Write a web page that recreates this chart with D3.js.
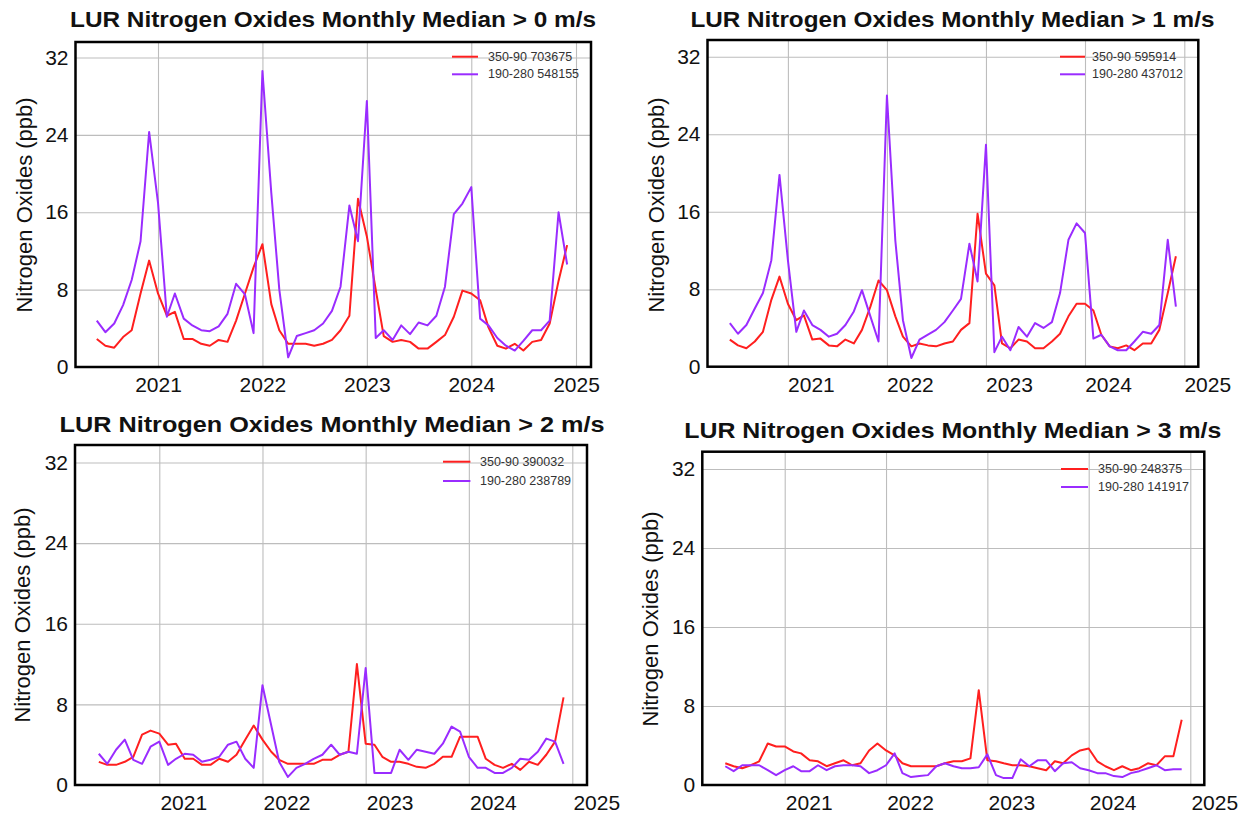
<!DOCTYPE html>
<html>
<head>
<meta charset="utf-8">
<script src="https://cdn.jsdelivr.net/npm/d3@7/dist/d3.min.js"></script>
<style>
  html, body { margin: 0; padding: 0; background: #ffffff; }
  svg { display: block; font-family: "Liberation Sans", Arial, Helvetica, sans-serif; }
</style>
</head>
<body>
<svg id="chart" width="1249" height="820"></svg>
<script>
// ---------------- DATA ----------------
const titles = [
  "LUR Nitrogen Oxides Monthly Median > 0 m/s",
  "LUR Nitrogen Oxides Monthly Median > 1 m/s",
  "LUR Nitrogen Oxides Monthly Median > 2 m/s",
  "LUR Nitrogen Oxides Monthly Median > 3 m/s"
];
const yLabel = "Nitrogen Oxides (ppb)";
const yTicks = [0, 8, 16, 24, 32];
const xTickYears = [2021, 2022, 2023, 2024, 2025];
const firstMonth = "2020-06-01";   // monthly medians, Jun 2020 .. Dec 2024
const lastMonth = "2024-12-01";
const seriesNames = ["350-90", "190-280"];
const seriesColors = ["#ff1f1f", "#9a2cff"];
const countsRed = ["703675", "595914", "390032", "248375"];
const countsPurple = ["548155", "437012", "238789", "141917"];

// > 0 m/s
const red0 = [2.9,2.2,2.0,3.1,3.8,7.6,11.0,7.6,5.3,5.7,2.9,2.9,2.4,2.2,2.8,2.6,4.8,7.6,10.3,12.7,6.5,3.8,2.4,2.4,2.4,2.2,2.4,2.8,3.8,5.3,17.4,13.5,8.0,3.2,2.6,2.8,2.6,1.9,1.9,2.6,3.3,5.2,7.9,7.6,6.9,4.1,2.2,1.9,2.4,1.7,2.6,2.8,4.5,8.9,12.6];
const purple0 = [4.8,3.6,4.5,6.4,9.0,13.0,24.3,17.0,5.2,7.6,5.0,4.3,3.8,3.7,4.2,5.5,8.6,7.5,3.5,30.6,18.0,8.0,1.0,3.2,3.5,3.8,4.5,5.8,8.3,16.7,13.0,27.5,3.0,3.8,2.8,4.3,3.4,4.6,4.3,5.3,8.3,15.8,16.9,18.6,5.0,4.3,3.0,2.2,1.7,2.7,3.8,3.8,4.8,16.0,10.6];
// > 1 m/s
const red1 = [2.8,2.2,1.9,2.6,3.6,6.9,9.3,6.5,4.8,5.3,2.8,2.9,2.2,2.1,2.8,2.4,3.8,6.2,8.9,7.9,5.2,3.1,2.1,2.4,2.2,2.1,2.4,2.6,3.8,4.5,15.8,9.6,8.4,2.4,1.9,2.8,2.6,1.9,1.9,2.6,3.4,5.2,6.5,6.5,5.8,3.3,2.1,1.9,2.2,1.7,2.4,2.4,3.8,7.6,11.4];
const purple1 = [4.5,3.4,4.3,6.0,7.6,11.0,19.8,11.0,3.6,5.8,4.3,3.8,3.1,3.4,4.3,5.7,7.9,5.2,2.6,28.0,13.0,4.8,0.9,2.8,3.3,3.8,4.6,5.8,7.0,12.7,8.8,22.9,1.5,3.1,1.7,4.1,3.1,4.5,4.0,4.6,7.6,13.1,14.8,13.8,2.9,3.3,2.1,1.7,1.7,2.6,3.6,3.4,4.3,13.1,6.2];
// > 2 m/s
const red2 = [2.3,2.0,2.0,2.3,2.8,5.0,5.4,5.1,4.0,4.1,2.6,2.6,2.0,2.0,2.6,2.3,3.0,4.5,5.9,4.5,3.3,2.5,2.1,2.1,2.1,2.1,2.5,2.5,3.0,3.3,12.0,4.1,4.0,2.8,2.3,2.3,2.1,1.8,1.7,2.1,2.8,2.8,4.8,4.8,4.8,2.6,2.0,1.7,2.1,1.5,2.3,2.0,3.0,4.3,8.7];
const purple2 = [3.1,2.1,3.5,4.5,2.5,2.1,3.8,4.3,2.0,2.6,3.1,3.0,2.3,2.5,2.8,4.0,4.3,2.6,1.7,9.9,5.9,2.3,0.8,1.7,2.1,2.6,3.0,4.0,3.0,3.3,3.1,11.6,1.2,1.2,1.2,3.5,2.5,3.5,3.3,3.1,4.1,5.8,5.3,2.8,1.7,1.7,1.2,1.2,1.7,2.6,2.5,3.3,4.6,4.3,2.1];
// > 3 m/s
const red3 = [2.2,1.9,1.7,2.0,2.4,4.2,3.9,3.9,3.4,3.2,2.5,2.4,1.9,2.2,2.5,2.0,2.2,3.5,4.2,3.5,3.0,2.2,1.9,1.9,1.9,1.9,2.2,2.4,2.4,2.7,9.6,2.5,2.4,2.2,2.0,2.0,1.9,1.7,1.5,2.4,2.2,3.0,3.5,3.7,2.4,1.9,1.5,1.9,1.5,1.7,2.2,2.0,2.9,2.9,6.6];
const purple3 = [1.9,1.4,2.0,2.0,2.0,1.5,1.0,1.5,1.9,1.4,1.4,2.0,1.5,1.9,2.0,2.0,1.9,1.2,1.5,2.0,3.2,1.2,0.8,0.9,1.0,1.9,2.2,1.9,1.7,1.7,1.8,3.1,1.0,0.7,0.7,2.6,1.9,2.5,2.5,1.4,2.2,2.3,1.7,1.5,1.2,1.2,0.9,0.8,1.2,1.4,1.7,2.0,1.5,1.6,1.6];

const redSeries = [red0, red1, red2, red3];
const purpleSeries = [purple0, purple1, purple2, purple3];

// ---------------- LAYOUT ----------------
const panels = [
  { x0: 75.5, x1: 591, y0: 42, y1: 367, g2021: 158, g2025: 576, y32: 57.5, labDx: 0,
    titleX: 333, titleY: 26.7, titleW: 526, ylabX: 24, ylabY: 205,
    legX0: 452, legX1: 478, legY: [56.7, 74.3], legTx: 488 },
  { x0: 707.5, x1: 1198.3, y0: 40, y1: 366.7, g2021: 787.9, g2025: 1184.3, y32: 56.7, labDx: 23,
    titleX: 952.4, titleY: 26.7, titleW: 524, ylabX: 656, ylabY: 205,
    legX0: 1060, legX1: 1085, legY: [56.7, 74.3], legTx: 1092 },
  { x0: 75, x1: 587, y0: 445, y1: 785, g2021: 159.3, g2025: 572.3, y32: 462.5, labDx: 24,
    titleX: 332, titleY: 431.7, titleW: 545, ylabX: 22, ylabY: 615,
    legX0: 443, legX1: 470.4, legY: [461.7, 481], legTx: 480 },
  { x0: 702.3, x1: 1204.3, y0: 451.7, y1: 785, g2021: 784.7, g2025: 1190.3, y32: 469, labDx: 24,
    titleX: 952.8, titleY: 438.3, titleW: 537, ylabX: 650, ylabY: 619,
    legX0: 1061, legX1: 1088, legY: [469, 487], legTx: 1098 }
];

const svg = d3.select("#chart");
const parse = d3.utcParse("%Y-%m-%d");
const months = d3.utcMonth.range(parse(firstMonth), d3.utcMonth.offset(parse(lastMonth), 1));

panels.forEach((p, i) => {
  const g = svg.append("g");
  const x = d3.scaleUtc()
    .domain([new Date(Date.UTC(2021, 0, 1)), new Date(Date.UTC(2025, 0, 1))])
    .range([p.g2021, p.g2025]);
  const y = d3.scaleLinear().domain([0, 32]).range([p.y1, p.y32]);

  const clipId = "clip" + i;
  svg.append("clipPath").attr("id", clipId)
    .append("rect").attr("x", p.x0).attr("y", p.y0).attr("width", p.x1 - p.x0).attr("height", p.y1 - p.y0);

  const yearDates = xTickYears.map(yr => new Date(Date.UTC(yr, 0, 1)));
  const grid = g.append("g").attr("clip-path", `url(#${clipId})`);
  grid.append("g")
    .attr("transform", `translate(0,${p.y1})`)
    .call(d3.axisBottom(x).tickValues(yearDates).tickSize(-(p.y1 - p.y0)).tickFormat(""))
    .call(a => a.select(".domain").remove())
    .call(a => a.selectAll("line").attr("stroke", "#bdbdbd").attr("stroke-width", 1.1));
  grid.append("g")
    .attr("transform", `translate(${p.x0},0)`)
    .call(d3.axisLeft(y).tickValues(yTicks.filter(v => v > 0)).tickSize(-(p.x1 - p.x0)).tickFormat(""))
    .call(a => a.select(".domain").remove())
    .call(a => a.selectAll("line").attr("stroke", "#bdbdbd").attr("stroke-width", 1.1));

  const line = d3.line().x((d, k) => x(months[k])).y(d => y(d));
  const lines = g.append("g").attr("clip-path", `url(#${clipId})`);
  [redSeries[i], purpleSeries[i]].forEach((s, k) => {
    lines.append("path").datum(s)
      .attr("fill", "none")
      .attr("stroke", seriesColors[k])
      .attr("stroke-width", 2)
      .attr("stroke-linejoin", "round")
      .attr("d", line);
  });

  g.append("rect")
    .attr("x", p.x0).attr("y", p.y0)
    .attr("width", p.x1 - p.x0).attr("height", p.y1 - p.y0)
    .attr("fill", "none").attr("stroke", "#000").attr("stroke-width", 2.5);

  g.append("g")
    .attr("transform", `translate(0,${p.y1})`)
    .call(d3.axisBottom(x).tickValues(yearDates).tickSize(0).tickPadding(10).tickFormat(d3.utcFormat("%Y")))
    .call(a => a.select(".domain").remove())
    .call(a => a.selectAll("text")
      .attr("dx", p.labDx)
      .attr("font-size", 21)
      .attr("font-family", "Liberation Sans, Arial, sans-serif")
      .attr("fill", "#111"));

  g.append("g")
    .attr("transform", `translate(${p.x0},0)`)
    .call(d3.axisLeft(y).tickValues(yTicks).tickSize(0).tickPadding(7).tickFormat(d3.format("d")))
    .call(a => a.select(".domain").remove())
    .call(a => a.selectAll("text")
      .attr("font-size", 21)
      .attr("font-family", "Liberation Sans, Arial, sans-serif")
      .attr("fill", "#111"));

  g.append("text")
    .attr("x", p.titleX).attr("y", p.titleY)
    .attr("text-anchor", "middle")
    .attr("font-size", 22).attr("font-weight", "bold")
    .attr("textLength", p.titleW).attr("lengthAdjust", "spacingAndGlyphs")
    .attr("fill", "#111")
    .text(titles[i]);

  g.append("text")
    .attr("transform", `translate(${p.ylabX},${p.ylabY}) rotate(-90)`)
    .attr("text-anchor", "middle")
    .attr("dominant-baseline", "central")
    .attr("font-size", 22)
    .attr("fill", "#111")
    .text(yLabel);

  const legTexts = [seriesNames[0] + " " + countsRed[i], seriesNames[1] + " " + countsPurple[i]];
  legTexts.forEach((t, k) => {
    g.append("line")
      .attr("x1", p.legX0).attr("x2", p.legX1)
      .attr("y1", p.legY[k]).attr("y2", p.legY[k])
      .attr("stroke", seriesColors[k]).attr("stroke-width", 2);
    g.append("text")
      .attr("x", p.legTx).attr("y", p.legY[k])
      .attr("dominant-baseline", "central")
      .attr("font-size", 12.5)
      .attr("fill", "#333")
      .text(t);
  });
});
</script>
</body>
</html>
